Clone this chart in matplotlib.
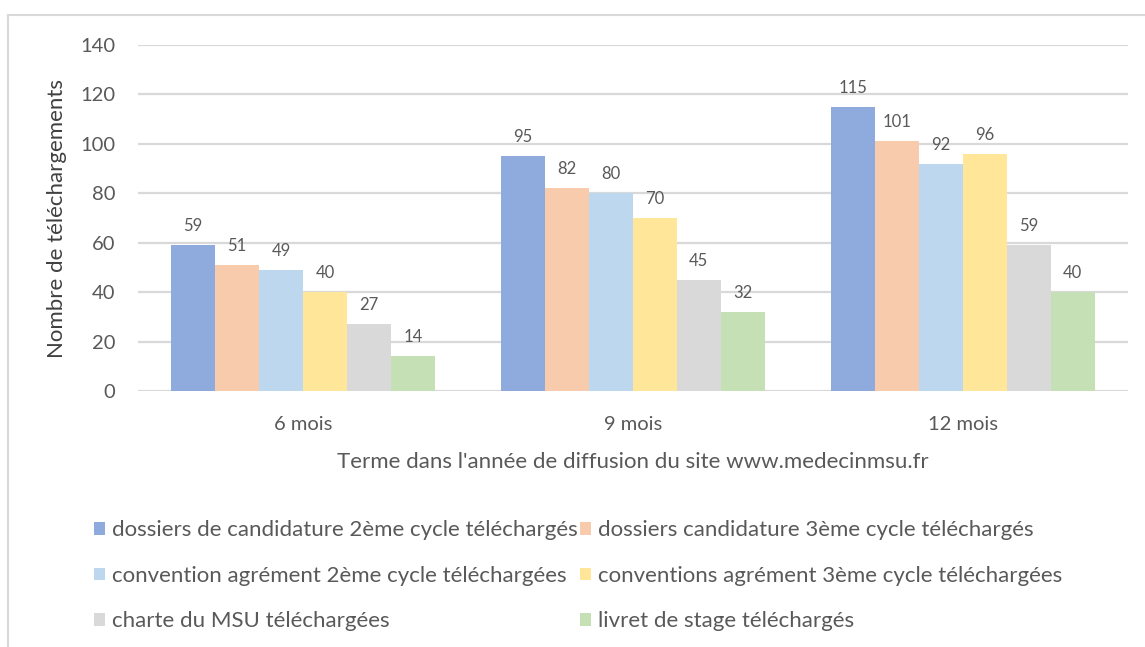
import numpy as np
import matplotlib.pyplot as plt
from matplotlib.lines import Line2D
from matplotlib.patches import Patch

plt.rcParams['font.family'] = ['Lato', 'DejaVu Sans']

# data
periods = ["6 mois", "9 mois", "12 mois"]
series_names = [
    "dossiers de candidature 2ème cycle téléchargés",
    "dossiers candidature 3ème cycle téléchargés",
    "convention agrément 2ème cycle téléchargées",
    "conventions agrément 3ème cycle téléchargées",
    "charte du MSU téléchargées",
    "livret de stage téléchargés",
]
dossiers2 = [59, 95, 115]
dossiers3 = [51, 82, 101]
convention2 = [49, 80, 92]
conventions3 = [40, 70, 96]
charte = [27, 45, 59]
livret = [14, 32, 40]
colours = ["#8FAADC", "#F8CBAD", "#BDD7EE", "#FFE699", "#D9D9D9", "#C5E0B4"]

all_series = [dossiers2, dossiers3, convention2, conventions3, charte, livret]
textcol = "#595959"

fig = plt.figure(figsize=(11.45, 6.47), dpi=100)
ax = fig.add_axes([0.1205, 0.3957, 0.8645, 0.5347])

x = np.arange(len(periods))
n = len(all_series)
w = 0.8 / n
for i, vals in enumerate(all_series):
    pos = x - 0.4 + w * (i + 0.5)
    ax.bar(pos, vals, width=w, color=colours[i], zorder=3)
    for px, v in zip(pos, vals):
        ax.annotate(str(v), (px, v), xytext=(0, 8), textcoords="offset points",
                    ha="center", va="bottom", fontsize=12, color=textcol)

ax.set_xlim(-0.5, 2.5)
ax.set_ylim(0, 140)
ax.set_yticks(range(0, 141, 20))
ax.set_xticks(x)
ax.set_xticklabels(periods)
ax.tick_params(axis="both", length=0, labelsize=14.5, labelcolor=textcol)
ax.tick_params(axis="y", pad=16.5)
ax.tick_params(axis="x", pad=18)
ax.grid(axis="y", color="#D9D9D9", linewidth=1.6, zorder=0)
for s in ax.spines.values():
    s.set_visible(False)

ax.set_ylabel("Nombre de téléchargements", fontsize=16, color="#404040", labelpad=9)
ax.set_xlabel("Terme dans l'année de diffusion du site www.medecinmsu.fr",
              fontsize=16, color=textcol, labelpad=14)

# legend, filled row by row like the original
handles = [Patch(facecolor=c, edgecolor="none") for c in colours]
order = [0, 2, 4, 1, 3, 5]
fig.legend([handles[k] for k in order], [series_names[k] for k in order],
           ncol=2, loc="center", bbox_to_anchor=(0.505, 0.11), frameon=False,
           fontsize=16, labelcolor=textcol, handlelength=0.5, handleheight=0.5,
           handletextpad=0.3, columnspacing=0.1, labelspacing=1.15)

# chart frame (cropped on right and bottom)
fig.add_artist(Line2D([8 / 1145, 8 / 1145], [0, 1 - 15 / 647], color="#D9D9D9", linewidth=1.5))
fig.add_artist(Line2D([8 / 1145, 1], [1 - 15 / 647, 1 - 15 / 647], color="#D9D9D9", linewidth=1.5))

fig.savefig("out.png", dpi=100)
